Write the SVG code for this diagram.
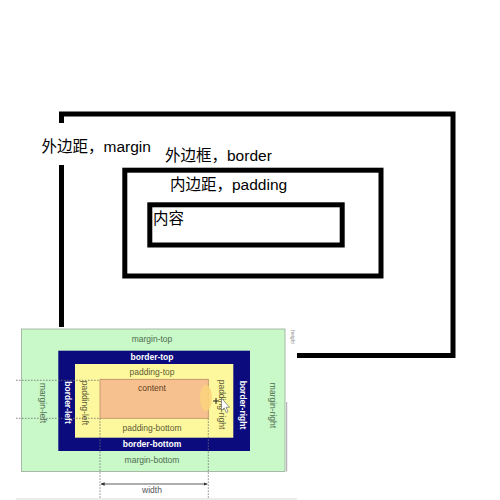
<svg xmlns="http://www.w3.org/2000/svg" width="500" height="500" viewBox="0 0 500 500">
<style>
.box{fill:none;stroke:#000;stroke-width:5}
.lbl{font-family:"Liberation Sans","Noto Sans CJK SC",sans-serif;font-size:15.5px;fill:#000}
.s{font-family:"Liberation Sans","DejaVu Sans",sans-serif;font-size:8.5px;text-anchor:middle;dominant-baseline:central}
.m{fill:#4f6e4f}
.b{fill:#fff;font-weight:bold}
.p{fill:#5e5c38}
.c{fill:#5e3e22}
.dot{stroke:#6f6f6f;stroke-width:0.8;stroke-dasharray:1.6,1.4;fill:none}
</style>
<defs>
<marker id="ah" viewBox="0 0 6 6" refX="5.5" refY="3" markerWidth="5" markerHeight="5" orient="auto-start-reverse">
<path d="M0,0.5 L6,3 L0,5.5 Z" fill="#333"/>
</marker>
</defs>
<rect width="500" height="500" fill="#fff"/>
<g id="margin-node">
<rect class="box" x="61.5" y="114" width="391.5" height="241.5"/>
<rect x="38" y="123" width="118" height="42" fill="#fff"/>
<text class="lbl" x="41.5" y="152">外边距，margin</text>
</g>
<g id="border-node">
<rect class="box" x="124.8" y="170.2" width="256.2" height="105.8"/>
<text class="lbl" x="165" y="160.5">外边框，border</text>
</g>
<g id="padding-label">
<text class="lbl" x="170" y="190">内边距，padding</text>
</g>
<g id="content-node">
<rect class="box" x="149.8" y="204.8" width="192.4" height="40.2"/>
<text class="lbl" x="153" y="224">内容</text>
</g>
<g id="box-model-picture">
<rect x="16" y="327" width="281" height="173" fill="#fff"/>
<line x1="16" y1="499" x2="297" y2="499" stroke="#d8d8d8" stroke-width="1"/>
<text x="293" y="337" font-family="Liberation Sans,sans-serif" font-size="5" fill="#8a8a8a" text-anchor="middle" dominant-baseline="central" transform="rotate(90 293 337)">height</text>
<rect x="21.5" y="329" width="263.5" height="142.5" fill="#c9f8c9" stroke="#9aa89a" stroke-width="0.8"/>
<line x1="286.7" y1="402" x2="286.7" y2="471.5" stroke="#9a9a9a" stroke-width="0.9"/>
<rect x="58.3" y="350.7" width="191.7" height="100.3" fill="#0b0b7e"/>
<rect x="75" y="364" width="158.3" height="73.7" fill="#fdf89d"/>
<rect x="100" y="379.3" width="108.3" height="39" fill="#f7c18f" stroke="#b98a64" stroke-width="0.8"/>
<ellipse cx="206" cy="398" rx="6" ry="13" fill="#fbd47c" opacity="0.85"/>
<text class="s m" x="152" y="339">margin-top</text>
<text class="s b" x="152" y="356.7">border-top</text>
<text class="s p" x="152" y="372.3">padding-top</text>
<text class="s c" x="152" y="388.3">content</text>
<text class="s p" x="152" y="428.3">padding-bottom</text>
<text class="s b" x="152" y="444">border-bottom</text>
<text class="s m" x="152" y="460">margin-bottom</text>
<text class="s" x="152" y="490" fill="#555">width</text>
<text class="s m" transform="translate(43.3 403) rotate(90)">margin-left</text>
<text class="s b" transform="translate(68.3 402.5) rotate(90)">border-left</text>
<text class="s p" transform="translate(85 403) rotate(90)">padding-left</text>
<text class="s p" transform="translate(221.7 404.5) rotate(90)">padding-right</text>
<text class="s b" transform="translate(243.3 405) rotate(90)">border-right</text>
<text class="s m" transform="translate(273.3 405.5) rotate(90)">margin-right</text>
<g id="connectors">
<path class="dot" d="M16,380.3 H100 M16,418.3 H100 M100,418.3 V498 M208.3,418.3 V498"/>
<line x1="101" y1="484" x2="207.3" y2="484" stroke="#333" stroke-width="0.8" marker-start="url(#ah)" marker-end="url(#ah)"/>
</g>
<g id="cursor">
<path d="M213,401 H219 M216,398 V404" stroke="#111" stroke-width="0.9"/>
<path d="M221.5,398 L221.5,410.5 L224.2,408 L226.3,412.5 L228,411.7 L226,407.3 L229.5,407.3 Z" fill="#fff" stroke="#555" stroke-width="0.6"/>
</g>
</g>
</svg>
